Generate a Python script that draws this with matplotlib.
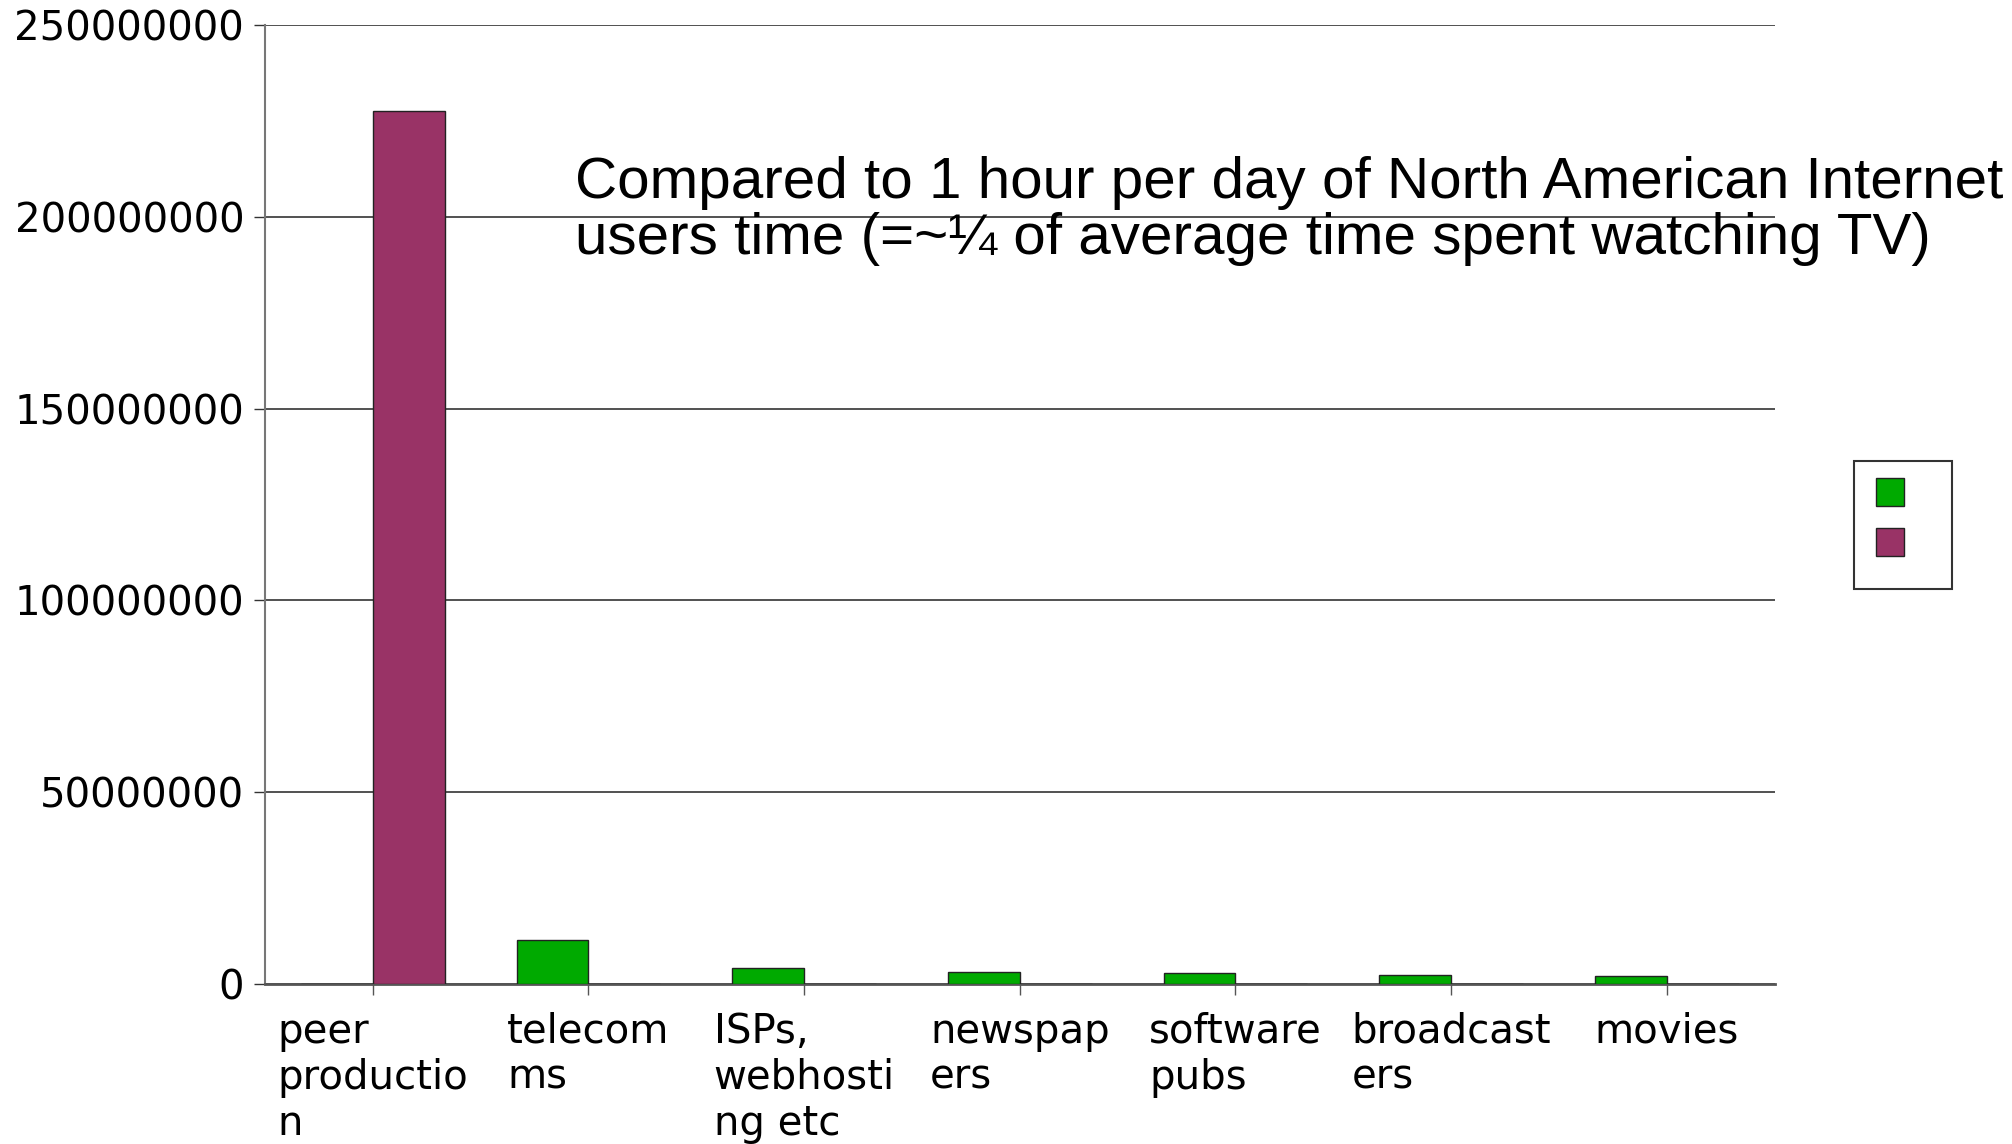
import matplotlib
matplotlib.use("Agg")
import matplotlib.pyplot as plt
import numpy as np
from matplotlib.patches import Patch, Rectangle
from matplotlib.ticker import FuncFormatter

# --- datos ---
categorias = ["peer\nproductio\nn", "telecom\nms", "ISPs,\nwebhosti\nng etc",
              "newspap\ners", "software\npubs", "broadcast\ners", "movies"]
serie_verde = [0, 11400000, 4250000, 3200000, 2950000, 2450000, 2200000]
serie_morada = [227700000, 0, 0, 0, 0, 0, 0]
ticks_y = [0, 50000000, 100000000, 150000000, 200000000, 250000000]
titulo = ("Compared to 1 hour per day of North American Internet\n"
          "users time (=~\u00bc of average time spent watching TV)")

verde = "#00aa00"
morado = "#993366"

fig = plt.figure(figsize=(20.12, 11.44), dpi=100)
ax = fig.add_axes([0.1317, 0.1399, 0.882 - 0.1317, 0.978 - 0.1399])

x = np.arange(len(categorias))
ancho = 1 / 3
ax.bar(x - ancho / 2, serie_verde, ancho, color=verde, edgecolor="#222222", linewidth=1, zorder=3)
ax.bar(x + ancho / 2, serie_morada, ancho, color=morado, edgecolor="#222222", linewidth=1, zorder=3)

ax.set_xlim(-0.5, len(categorias) - 0.5)
ax.set_ylim(0, 250000000)
ax.set_yticks(ticks_y)
ax.yaxis.set_major_formatter(FuncFormatter(lambda v, p: f"{int(v)}"))
ax.set_xticks(x)
ax.set_xticklabels(categorias, multialignment="left", linespacing=1.2)

# rejilla horizontal
ax.yaxis.grid(True, color="#333333", linewidth=1.2, zorder=0)
ax.set_axisbelow(True)

for s in ["top", "right"]:
    ax.spines[s].set_visible(False)
ax.spines["left"].set_color("#777777")
ax.spines["left"].set_linewidth(1.5)
ax.spines["bottom"].set_color("#555555")
ax.spines["bottom"].set_linewidth(2)

ax.tick_params(axis="y", length=8, width=1, color="#333333", labelsize=29, pad=7)
ax.tick_params(axis="x", length=8, width=1, color="#555555", labelsize=29, pad=12)

fig.text(575 / 2012, 1 - 156 / 1144, titulo, fontsize=42,
         family=["Liberation Sans", "DejaVu Sans"],
         va="top", ha="left", linespacing=1.05)

# leyenda sin textos
handles = [Patch(facecolor=verde, edgecolor="#222222"),
           Patch(facecolor=morado, edgecolor="#222222")]
leg = fig.legend(handles, ["", ""], loc="upper left",
                 bbox_to_anchor=(1876 / 2012, 1 - 478 / 1144),
                 fontsize=20, handlelength=1.01, handleheight=1.177,
                 borderpad=0, labelspacing=0.75, handletextpad=0.5,
                 borderaxespad=0, frameon=False)
fig.add_artist(Rectangle((1854 / 2012, 1 - 589 / 1144), 98 / 2012, 128 / 1144,
                         transform=fig.transFigure, fill=False,
                         edgecolor="#333333", linewidth=1.5))

fig.savefig("out.png", dpi=100)
